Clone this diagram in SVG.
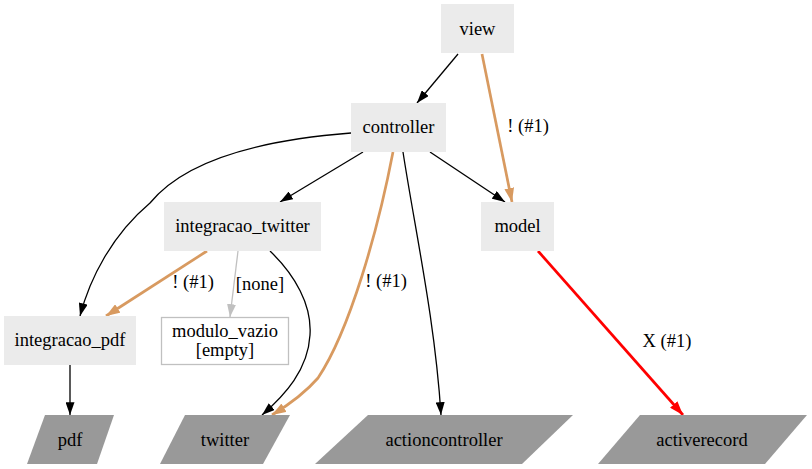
<svg xmlns="http://www.w3.org/2000/svg" width="812" height="469" viewBox="0 0 812 469" font-family="'Liberation Serif','Times New Roman',serif" font-size="18.5">
<style>
text{font-family:'Liberation Serif','Times New Roman',serif;font-size:18.5px;fill:#000;text-anchor:middle}
.n{fill:#ebebeb;stroke:none}
.g{fill:#999;stroke:none}
.e{fill:none;stroke:#000;stroke-width:1.3}
.o{fill:none;stroke:#d89a60;stroke-width:2.7}
.r{fill:none;stroke:#ff0000;stroke-width:2.7}
.gr{fill:none;stroke:#c0c0c0;stroke-width:1.3}
</style>
<defs>
<marker id="ab" viewBox="0 0 10 7" refX="10" refY="3.5" markerWidth="13" markerHeight="9" markerUnits="userSpaceOnUse" orient="auto"><path d="M0,0L10,3.5L0,7z" fill="#000"/></marker>
<marker id="ao" viewBox="0 0 10 7" refX="10" refY="3.5" markerWidth="14" markerHeight="10" markerUnits="userSpaceOnUse" orient="auto"><path d="M0,0L10,3.5L0,7z" fill="#d89a60"/></marker>
<marker id="ar" viewBox="0 0 10 7" refX="10" refY="3.5" markerWidth="14" markerHeight="10" markerUnits="userSpaceOnUse" orient="auto"><path d="M0,0L10,3.5L0,7z" fill="#ff0000"/></marker>
<marker id="ag" viewBox="0 0 10 7" refX="10" refY="3.5" markerWidth="13" markerHeight="9" markerUnits="userSpaceOnUse" orient="auto"><path d="M0,0L10,3.5L0,7z" fill="#c0c0c0"/></marker>
</defs>
<g id="connectors">
<path class="e" d="M458,54L417,103" marker-end="url(#ab)"/>
<path class="o" d="M482,54L512,202" marker-end="url(#ao)"/>
<text x="528" y="132">! (#1)</text>
<path class="e" d="M430,152L505,202" marker-end="url(#ab)"/>
<path class="e" d="M363,152L280,202" marker-end="url(#ab)"/>
<path class="e" d="M351,133C260,140 185,160 150,203C112,235 90,278 80,316" marker-end="url(#ab)"/>
<path class="o" d="M393,152C378,230 350,330 318,378C305,393 290,404 272,415" marker-end="url(#ao)"/>
<text x="386" y="287">! (#1)</text>
<path class="e" d="M403,152C415,230 435,320 441,415" marker-end="url(#ab)"/>
<path class="o" d="M207,251L106,316" marker-end="url(#ao)"/>
<text x="193" y="288">! (#1)</text>
<path class="gr" d="M238,251L230,317" marker-end="url(#ag)"/>
<text x="260" y="290">[none]</text>
<path class="e" d="M270,251C295,275 312,305 310,335C308,370 285,395 262,415" marker-end="url(#ab)"/>
<path class="e" d="M70,365L70,415" marker-end="url(#ab)"/>
<path class="r" d="M538,251L683,415" marker-end="url(#ar)"/>
<text x="667" y="347">X (#1)</text>
</g>
<g id="view"><rect class="n" x="441" y="4" width="73" height="49"/><text x="477.5" y="35">view</text></g>
<g id="controller"><rect class="n" x="351" y="103" width="95" height="49"/><text x="398.5" y="133">controller</text></g>
<g id="model"><rect class="n" x="481" y="202" width="73" height="49"/><text x="517.5" y="232">model</text></g>
<g id="integracao_twitter"><rect class="n" x="164" y="202" width="157" height="49"/><text x="242.5" y="232">integracao_twitter</text></g>
<g id="modulo_vazio"><rect x="161.5" y="317.5" width="127" height="47" fill="#fff" stroke="#c0c0c0" stroke-width="1.3"/><text x="225" y="337" font-size="18">modulo_vazio</text><text x="225" y="356" font-size="18">[empty]</text></g>
<g id="integracao_pdf"><rect class="n" x="4" y="316" width="132" height="49"/><text x="70" y="346">integracao_pdf</text></g>
<g id="pdf"><polygon class="g" points="45,415 114,415 97,464 27,464"/><text x="70" y="446">pdf</text></g>
<g id="twitter"><polygon class="g" points="185,415 290,415 263,464 160,464"/><text x="225" y="446">twitter</text></g>
<g id="actioncontroller"><polygon class="g" points="368,415 573,415 522,464 315,464"/><text x="444" y="446">actioncontroller</text></g>
<g id="activerecord"><polygon class="g" points="640,415 807,415 765,464 598,464"/><text x="702" y="446">activerecord</text></g>
</svg>
